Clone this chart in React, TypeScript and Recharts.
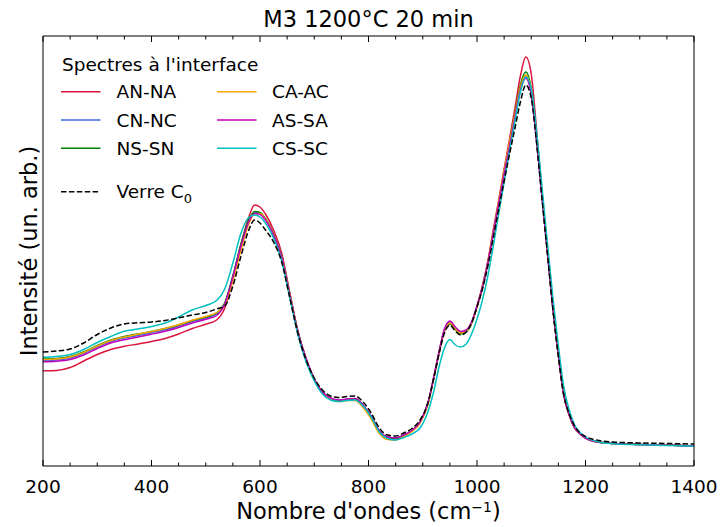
import React from "react";
import { Line, LineChart, XAxis, YAxis } from "recharts";

// wavenumber grid (cm-1)
const wavenumbers = [
  200, 225, 250, 275, 300, 325, 350, 375, 400, 425, 450, 475, 500, 520, 535,
  550, 565, 580, 590, 600, 610, 625, 640, 655, 670, 685, 700, 715, 730, 745,
  760, 775, 790, 805, 820, 835, 850, 865, 880, 895, 910, 920, 930, 940, 950,
  960, 970, 980, 990, 1000, 1010, 1020, 1030, 1040, 1050, 1060, 1070, 1080,
  1090, 1100, 1110, 1120, 1130, 1140, 1150, 1160, 1170, 1180, 1190, 1200,
  1225, 1250, 1300, 1350, 1400,
];

const anNa = [
  95.3, 95.6, 98.5, 105, 111.5, 116.5, 119.7, 122, 124.5, 127.5, 132, 137.5,
  141.7, 146, 158, 188, 222, 250, 261, 259, 252, 236, 213, 173, 134, 107, 87,
  74, 67.5, 65.5, 66.5, 67, 60.5, 49.5, 35, 29, 28, 31, 35.5, 44, 64, 88, 114,
  136, 144, 138, 133.5, 135, 143, 160, 180, 205, 236, 266, 297, 327, 358, 390,
  409, 392, 335, 272, 215, 158, 111, 71, 51, 38, 32, 28, 23.8, 22.5, 21.5,
  20.8, 20,
];

const cnNc = [
  105.5, 106, 108, 112.5, 119, 124.5, 128, 130.5, 133.3, 136.3, 140, 144.5,
  148, 152, 162, 190, 221, 246, 253.5, 252.5, 247, 231.5, 209.5, 171.5, 134,
  107.5, 86.5, 73.5, 67.5, 65.5, 66.5, 67, 60.5, 49.5, 35, 28.5, 27.5, 30.5,
  35, 43.5, 63.5, 87.5, 113.5, 136, 144, 138, 133.5, 135.5, 143.5, 159.5, 179,
  203.5, 233, 263, 293, 322, 351, 378, 389.5, 374, 325, 268.5, 213, 157, 111,
  71, 51, 38, 32, 28, 23.8, 22.5, 21.5, 20.8, 20,
];

const nsSn = [
  107, 107.5, 109.5, 114, 120.5, 126, 129.5, 132, 134.5, 137.5, 141, 145.5,
  149, 153, 163, 190, 222, 247, 254.5, 253.5, 247.5, 232, 210, 172, 134.5, 107,
  86.5, 73.5, 67.5, 65.5, 66.5, 67, 60.5, 49.5, 34.5, 28.5, 27.5, 30.5, 35,
  43.5, 63, 87, 113, 135, 142, 136.5, 132, 134, 142.5, 159, 178.5, 203, 233,
  263, 294, 323, 353, 381, 394, 377, 327, 269, 213, 157, 111, 71, 51, 38, 32,
  28, 23.8, 22.5, 21.5, 20.8, 20,
];

const caAc = [
  106.5, 107, 109, 113.5, 120, 125.5, 129, 131.8, 134.5, 137.5, 141.2, 145.8,
  149.5, 153.5, 161, 185, 216, 243, 252, 252.5, 247, 231.5, 209.5, 172, 134,
  107, 86.5, 73.5, 67, 64.5, 65.5, 65.5, 58.5, 47, 32.5, 26.5, 26, 29.5, 34.5,
  43, 62.5, 87, 113, 135.5, 143, 137.5, 133, 135, 143, 159.5, 179, 204, 234,
  264, 295, 324, 352, 379, 391, 375, 326, 269, 213.5, 157, 111, 71, 51, 38, 32,
  28, 23.8, 22.5, 21.5, 20.8, 20,
];

const asSa = [
  104.3, 104.8, 106.5, 111, 117.5, 123, 126.3, 129, 131.8, 134.8, 138.5, 143,
  146.7, 150.5, 162, 189, 220, 245, 252.5, 251.5, 246, 231, 209, 171, 134,
  107.5, 87, 74, 68, 66, 67, 67.5, 61, 50, 35, 29, 28, 31, 35.5, 44, 64, 88,
  114, 137, 145, 139, 134.5, 136, 144, 160, 179, 203, 233, 262, 292, 320, 349,
  376, 387.7, 371, 324, 268, 213, 157, 111, 71, 51, 38, 32, 28, 23.8, 22.5,
  21.5, 20.8, 20,
];

const csSc = [
  108.7, 109.5, 111.5, 116.5, 123.5, 129.5, 134.8, 137, 139.5, 143, 149, 156,
  160.5, 165.5, 177, 203, 233, 249, 251, 249, 243, 228, 205, 168, 131, 104, 85,
  72, 66, 64.5, 65.5, 66, 60, 49, 34, 27.5, 26, 28.5, 32, 38, 55, 74, 99, 118,
  126.5, 121, 119, 122, 132, 147, 166, 190, 220, 252, 284, 315, 345, 374, 389,
  377, 333, 278, 222, 168, 120, 79, 56, 41, 33.5, 29, 24, 22.3, 21.2, 20.5,
  19.8,
];

const verreC0 = [
  114, 115, 117, 123, 131.5, 138, 142, 143.2, 144, 145.5, 148.2, 151, 153.5,
  157, 160, 180, 210, 237, 246, 243, 236, 224, 204, 168, 132, 106, 88, 76, 70,
  68.5, 69.5, 70, 64, 53, 38, 31, 30, 33, 37.5, 46, 64, 87, 112, 133, 141, 135,
  131, 134, 143, 159, 177, 200, 228, 257, 285, 312, 338, 364, 381, 368, 322,
  266, 211, 156, 110, 71, 52, 40, 33, 29.5, 25.5, 24, 23, 22.5, 22,
];

const majorTicks = [200, 400, 600, 800, 1000, 1200, 1400];
const allTicks = [
  200, 250, 300, 350, 400, 450, 500, 550, 600, 650, 700, 750, 800, 850, 900,
  950, 1000, 1050, 1100, 1150, 1200, 1250, 1300, 1350, 1400,
];

const series = [
  { key: "anNa", name: "AN-NA", color: "#dc143c", values: anNa },
  { key: "cnNc", name: "CN-NC", color: "#4169e1", values: cnNc },
  { key: "nsSn", name: "NS-SN", color: "#008000", values: nsSn },
  { key: "caAc", name: "CA-AC", color: "#ffa500", values: caAc },
  { key: "asSa", name: "AS-SA", color: "#bf00bf", values: asSa },
  { key: "csSc", name: "CS-SC", color: "#00bfbf", values: csSc },
];

const data = wavenumbers.map((x, i) => {
  const row: Record<string, number> = { x };
  series.forEach((s) => {
    row[s.key] = s.values[i];
  });
  row.verre = verreC0[i];
  return row;
});

const FONT = "DejaVu Sans, sans-serif";

const BottomTick = (props: any) => {
  const { x, y, payload } = props;
  const major = majorTicks.includes(payload.value);
  return (
    <g>
      <line x1={x} x2={x} y1={y} y2={y - (major ? 6 : 3.5)} stroke="#000" />
      {major && (
        <text x={x} y={y + 27} textAnchor="middle" fontSize={18.5} fontFamily={FONT} fill="#000">
          {payload.value}
        </text>
      )}
    </g>
  );
};

const TopTick = (props: any) => {
  const { x, y, payload } = props;
  const major = majorTicks.includes(payload.value);
  return <line x1={x} x2={x} y1={y} y2={y + (major ? 6 : 3.5)} stroke="#000" />;
};

const legendRows = [0, 1, 2];

const Overlay = () => (
  <svg
    width={720}
    height={527}
    style={{ position: "absolute", left: 0, top: 0, pointerEvents: "none" }}
    fontFamily={FONT}
  >
    <text x={368.5} y={26.5} textAnchor="middle" fontSize={22.5}>
      M3 1200°C 20 min
    </text>
    <text x={368.5} y={518.5} textAnchor="middle" fontSize={22.5}>
      Nombre d'ondes (cm
      <tspan dy={-7} fontSize={14}>−1</tspan>
      <tspan dy={7}>)</tspan>
    </text>
    <text transform="translate(37,251) rotate(-90)" textAnchor="middle" fontSize={22.5}>
      Intensité (un. arb.)
    </text>

    <text x={62} y={70.5} fontSize={18.5}>
      Spectres à l'interface
    </text>
    {series.map((s, i) => {
      const col = Math.floor(i / 3);
      const row = legendRows[i % 3];
      const y = 91.7 + row * 28.3;
      const lx = col === 0 ? 61 : 217;
      const tx = col === 0 ? 116.5 : 272;
      return (
        <g key={s.key}>
          <line x1={lx} x2={lx + 39.5} y1={y} y2={y} stroke={s.color} strokeWidth={1.5} />
          <text x={tx} y={y + 6.6} fontSize={18.5}>
            {s.name}
          </text>
        </g>
      );
    })}
    <line x1={61} x2={100.5} y1={191.7} y2={191.7} stroke="#000" strokeWidth={1.5} strokeDasharray="5.5 2.4" />
    <text x={116.5} y={198.3} fontSize={18.5}>
      Verre C
      <tspan dy={5} fontSize={13}>0</tspan>
    </text>
  </svg>
);

export default function App() {
  return (
    <div style={{ position: "absolute", left: 0, top: 0, width: 720, height: 527, background: "#fff" }}>
      <LineChart
        width={720}
        height={527}
        data={data}
        margin={{ top: 26, right: 16, bottom: 31, left: 33 }}
      >
        <XAxis
          xAxisId="bottom"
          dataKey="x"
          type="number"
          domain={[200, 1400]}
          ticks={allTicks}
          interval={0}
          allowDataOverflow
          height={30}
          tickSize={0}
          tickMargin={0}
          tickLine={false}
          tick={(p: any) => <BottomTick {...p} />}
          axisLine={{ stroke: "#000", strokeWidth: 1 }}
        />
        <XAxis
          xAxisId="top"
          orientation="top"
          dataKey="x"
          type="number"
          domain={[200, 1400]}
          ticks={allTicks}
          interval={0}
          allowDataOverflow
          height={10}
          tickSize={0}
          tickMargin={0}
          tickLine={false}
          tick={(p: any) => <TopTick {...p} />}
          axisLine={{ stroke: "#000", strokeWidth: 1 }}
        />
        <YAxis
          yAxisId="left"
          type="number"
          domain={[0, 430]}
          allowDataOverflow
          width={10}
          tick={false}
          tickLine={false}
          axisLine={{ stroke: "#000", strokeWidth: 1 }}
        />
        <YAxis
          yAxisId="right"
          orientation="right"
          type="number"
          domain={[0, 430]}
          width={10}
          tick={false}
          tickLine={false}
          axisLine={{ stroke: "#000", strokeWidth: 1 }}
        />
        {series.map((s) => (
          <Line
            key={s.key}
            xAxisId="bottom"
            yAxisId="left"
            type="monotone"
            dataKey={s.key}
            name={s.name}
            stroke={s.color}
            strokeWidth={1.5}
            dot={false}
            isAnimationActive={false}
          />
        ))}
        <Line
          xAxisId="bottom"
          yAxisId="left"
          type="monotone"
          dataKey="verre"
          name="Verre C0"
          stroke="#000"
          strokeWidth={1.5}
          strokeDasharray="5.5 2.4"
          dot={false}
          isAnimationActive={false}
        />
      </LineChart>
      <Overlay />
    </div>
  );
}
